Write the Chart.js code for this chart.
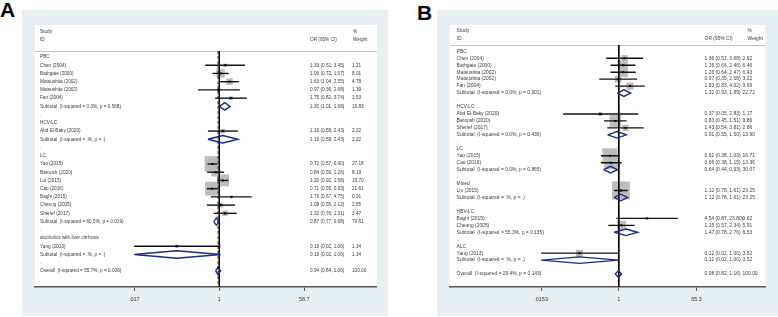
<!DOCTYPE html>
<html lang="en">
<head>
<meta charset="UTF-8">
<title>Forest plots A and B</title>
<script src="https://cdn.jsdelivr.net/npm/chart.js"></script>
<style>
  html, body { margin: 0; padding: 0; width: 778px; height: 317px; overflow: hidden; background: #fff; }
  .panel { position: absolute; background: #e8eff2; }
  .panel canvas { display: block; }
  .tag { position: absolute; font-family: "Liberation Sans", Arial, sans-serif; font-weight: bold; font-size: 21px; line-height: 21px; color: #000; }
</style>
</head>
<body>
<div class="tag" style="left:0px;top:-1px">A</div>
<div class="panel" style="left:22px;top:10px;width:366px;height:306px"><canvas id="chartA" width="366" height="306"></canvas></div>
<div class="tag" style="left:417px;top:2px">B</div>
<div class="panel" style="left:437px;top:10px;width:341px;height:306px"><canvas id="chartB" width="341" height="306"></canvas></div>

<script>
// ---- Panel A data ----
const namesA = ["PBC", "Chen (2004)", "Bathgate (2000)", "Matsushita (2002)", "Matsushita (2002)", "Fan (2004)",
  "Subtotal  (I-squared = 0.0%, p = 0.568)", ".", "HCV-LC", "Abd El-Baky (2020)", "Subtotal  (I-squared = .%, p = .)", ".",
  "LC", "Yao (2015)", "Baroosh (2020)", "Liu (2015)", "Cao (2016)", "Baghi (2015)", "Cheong (2005)", "Sherief (2017)",
  "Subtotal  (I-squared = 60.5%, p = 0.019)", ".", "alcoholics with liver cirrhosis", "Yang (2013)",
  "Subtotal  (I-squared = .%, p = .)", ".", "Overall  (I-squared = 55.7%, p = 0.006)"];
// g = group, s = study, t = subtotal, b = blank, o = overall
const typesA = ["g","s","s","s","s","s","t","b","g","s","t","b","g","s","s","s","s","s","s","s","t","b","g","s","t","b","o"];
const orA = [null,1.33,1.06,1.63,0.97,1.75,1.30,null,null,1.19,1.19,null,null,0.72,0.84,1.20,0.71,1.79,1.08,1.32,0.87,null,null,0.13,0.13,null,0.94];
const loA = [null,0.51,0.72,1.04,0.36,0.82,1.01,null,null,0.58,0.58,null,null,0.57,0.56,0.92,0.55,0.67,0.55,0.76,0.77,null,null,0.017,0.017,null,0.84];
const hiA = [null,3.45,1.57,2.55,2.68,3.74,1.68,null,null,2.43,2.43,null,null,0.90,1.26,1.56,0.93,4.75,2.12,2.31,0.98,null,null,1.06,1.06,null,1.06];
const wA = [null,1.21,8.01,4.78,1.39,1.53,16.83,null,null,2.22,2.22,null,null,27.18,8.19,15.70,21.61,0.91,2.55,3.47,79.61,null,null,1.34,1.34,null,100.00];
const ticksA = [0.017, 1, 58.7];
const tickLabelsA = [".017", "1", "58.7"];

// ---- Panel B data ----
const namesB = ["PBC", "Chen (2004)", "Bathgate (2000)", "Matsushita (2002)", "Matsushita (2002)", "Fan (2004)",
  "Subtotal  (I-squared = 0.0%, p = 0.901)", ".", "HCV-LC", "Abd El-Baky (2020)", "Baroosh (2020)", "Sherief (2017)",
  "Subtotal  (I-squared = 0.0%, p = 0.436)", ".", "LC", "Yao (2015)", "Cao (2016)",
  "Subtotal  (I-squared = 0.0%, p = 0.865)", ".", "Mixed", "Liu (2015)", "Subtotal  (I-squared = .%, p = .)", ".",
  "HBV-LC", "Baghi (2015)", "Cheong (2005)", "Subtotal  (I-squared = 55.3%, p = 0.135)", ".",
  "ALC", "Yang (2013)", "Subtotal  (I-squared = .%, p = .)", ".", "Overall  (I-squared = 29.4%, p = 0.143)"];
const typesB = ["g","s","s","s","s","s","t","b","g","s","s","s","t","b","g","s","s","t","b","g","s","t","b","g","s","s","t","b","g","s","t","b","o"];
const orB = [null,1.36,1.26,1.26,0.97,1.83,1.32,null,null,0.37,0.83,1.43,0.91,null,null,0.62,0.66,0.64,null,null,1.12,1.12,null,null,4.54,1.15,1.47,null,null,0.12,0.12,null,0.98];
const loB = [null,0.51,0.64,0.64,0.35,0.83,0.93,null,null,0.05,0.45,0.54,0.55,null,null,0.38,0.38,0.44,null,null,0.78,0.78,null,null,0.87,0.57,0.78,null,null,0.0153,0.0153,null,0.82];
const hiB = [null,3.68,2.46,2.47,2.68,4.02,1.89,null,null,2.83,1.51,3.81,1.50,null,null,1.03,1.15,0.93,null,null,1.61,1.61,null,null,23.80,2.34,2.76,null,null,1.00,1.00,null,1.16];
const wB = [null,2.92,6.46,6.43,3.22,3.69,22.72,null,null,1.17,9.86,2.86,13.90,null,null,16.71,13.36,30.07,null,null,23.25,23.25,null,null,0.62,5.91,6.53,null,null,3.52,3.52,null,100.00];
const ticksB = [0.0153, 1, 65.3];
const tickLabelsB = [".0153", "1", "65.3"];

const FONT = '"Liberation Sans", Arial, sans-serif';
const NAVY = '#1c2a8c';

function textPlugin(L, names, types, or, lo, hi, w) {
  return {
    id: 'forestText',
    beforeDraw(chart) {
      const { ctx, chartArea: a, scales: { y } } = chart;
      ctx.save();
      ctx.fillStyle = '#fff';
      ctx.fillRect(a.left, a.top, a.right - a.left, a.bottom - a.top);
      const sy = Math.round(y.getPixelForValue(L.sepRow)) + 0.5;
      ctx.strokeStyle = '#c4c4c4';
      ctx.lineWidth = 1;
      ctx.beginPath(); ctx.moveTo(a.left, sy); ctx.lineTo(a.right, sy); ctx.stroke();
      ctx.restore();
    },
    afterDatasetsDraw(chart) {
      const { ctx, chartArea: a, scales: { y } } = chart;
      ctx.save();
      ctx.fillStyle = '#3a3a3a';
      ctx.font = L.fontSize + 'px ' + FONT;
      ctx.textBaseline = 'middle';
      const put = (t, dx, row) => ctx.fillText(t, a.left + dx, y.getPixelForValue(row));
      put('Study', L.nameX, L.hdr1);
      put('ID', L.nameX, L.hdr2);
      put('OR (95% CI)', L.orX, L.hdr2);
      put('%', L.wHdrX, L.hdr1);
      put('Weight', L.wHdrX, L.hdr2);
      names.forEach((n, i) => {
        put(n, L.nameX, i);
        if (or[i] !== null) {
          put(`${or[i].toFixed(2)} (${lo[i].toFixed(2)}, ${hi[i].toFixed(2)})`, L.orX, i);
          put(w[i].toFixed(2), L.wX, i);
        }
      });
      ctx.restore();
    }
  };
}

function makeForest(id, L, names, types, or, lo, hi, w, ticks, tickLabels) {
  const datasets = [];
  const studyRows = types.map((t, i) => t === 's' ? i : -1).filter(i => i >= 0);

  // weight boxes
  datasets.push({
    data: studyRows.map(i => ({ x: or[i], y: i })),
    pointStyle: 'rect',
    pointRadius: studyRows.map(i => L.boxK * Math.sqrt(w[i]) / 1.414),
    pointHoverRadius: studyRows.map(i => L.boxK * Math.sqrt(w[i]) / 1.414),
    backgroundColor: '#bdbdbd', borderWidth: 0, order: 5
  });
  // confidence intervals
  studyRows.forEach(i => datasets.push({
    data: [{ x: lo[i], y: i }, { x: hi[i], y: i }],
    showLine: true, borderColor: '#111', borderWidth: 1.4, pointRadius: 0, order: 3
  }));
  // point estimates
  datasets.push({
    data: studyRows.map(i => ({ x: or[i], y: i })),
    pointStyle: 'rect', pointRadius: 1.4, backgroundColor: '#000', borderWidth: 0, order: 2
  });
  // pooled diamonds
  types.forEach((t, i) => {
    if (t !== 't' && t !== 'o') return;
    datasets.push({
      data: [{ x: lo[i], y: i }, { x: or[i], y: i - L.dia }, { x: hi[i], y: i }, { x: or[i], y: i + L.dia }, { x: lo[i], y: i }],
      showLine: true, borderColor: NAVY, borderWidth: 1.4, pointRadius: 0, fill: false, order: 1
    });
  });
  // no-effect line and overall estimate line
  const overall = or[types.indexOf('o')];
  datasets.push({
    data: [{ x: 1, y: L.sepRow }, { x: 1, y: L.yMax }],
    showLine: true, borderColor: '#000', borderWidth: 1, pointRadius: 0, order: 4
  });
  datasets.push({
    data: [{ x: overall, y: L.sepRow }, { x: overall, y: L.yMax }],
    showLine: true, borderColor: '#b3262a', borderWidth: 1, borderDash: [3, 2], pointRadius: 0, order: 4
  });

  new Chart(document.getElementById(id), {
    type: 'scatter',
    data: { datasets },
    options: {
      responsive: false,
      animation: false,
      events: [],
      layout: { padding: { left: L.padLeft, right: L.padRight, top: L.padTop, bottom: 0 } },
      plugins: { legend: { display: false }, tooltip: { enabled: false } },
      scales: {
        x: {
          type: 'logarithmic',
          min: L.xMin, max: L.xMax,
          afterBuildTicks: s => { s.ticks = ticks.map(v => ({ value: v })); },
          afterFit: s => { s.height = L.axisH; },
          ticks: {
            callback: (v, i) => tickLabels[i],
            font: { size: 5.5, family: FONT }, color: '#333', padding: 5,
            maxRotation: 0, autoSkip: false
          },
          grid: { display: true, drawOnChartArea: false, drawTicks: true, tickLength: 4, color: '#555' },
          border: { display: true, color: '#555', width: 1.5 }
        },
        y: { type: 'linear', reverse: true, min: L.yMin, max: L.yMax, display: false }
      }
    },
    plugins: [textPlugin(L, names, types, or, lo, hi, w)]
  });
}

// layout: chart area is the white box; x range set so the ticks land where they do in the figure
const pxA = 85 / Math.log(58.7), pxB = 79 / Math.log(65.3);
const layoutA = {
  padLeft: 13, padRight: 11, padTop: 15, axisH: 29,
  xMin: Math.exp(-184.3 / pxA), xMax: Math.exp(157.7 / pxA),
  yMin: -3.89, yMax: 27.95, sepRow: -0.73, hdr1: -3.04, hdr2: -2.07,
  nameX: 5, orX: 275, wX: 317, wHdrX: 318, fontSize: 4.7, boxK: 3.0, dia: 0.45
};
const layoutB = {
  padLeft: 10, padRight: 10, padTop: 15, axisH: 29,
  xMin: Math.exp(-172 / pxB), xMax: Math.exp(149 / pxB),
  yMin: -3.78, yMax: 33.86, sepRow: -0.9, hdr1: -2.92, hdr2: -1.77,
  nameX: 7, orX: 255, wX: 293, wHdrX: 298, fontSize: 4.9, boxK: 3.7, dia: 0.47
};

makeForest('chartA', layoutA, namesA, typesA, orA, loA, hiA, wA, ticksA, tickLabelsA);
makeForest('chartB', layoutB, namesB, typesB, orB, loB, hiB, wB, ticksB, tickLabelsB);
</script>
</body>
</html>
